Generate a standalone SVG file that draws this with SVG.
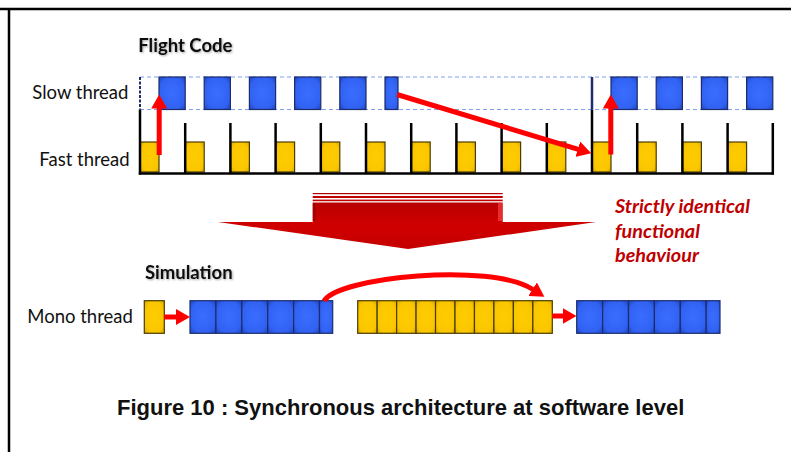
<svg xmlns="http://www.w3.org/2000/svg" width="791" height="452" viewBox="0 0 791 452">
<style>
  .lbl { font-family: Lato, "Open Sans", "Liberation Sans", sans-serif; font-size: 18.5px; fill: #111; }
  .ttl { font-family: Lato, "Open Sans", "Liberation Sans", sans-serif; font-size: 18.5px; font-weight: bold; fill: #111; }
  .red { font-family: Lato, "Open Sans", "Liberation Sans", sans-serif; font-size: 19.8px; font-weight: bold; font-style: italic; fill: #c00000; }
  .cap { font-family: "Liberation Sans", Arial, sans-serif; font-size: 22px; font-weight: bold; fill: #111; }
  .blue { fill: url(#gBlue); stroke: #1c2c6c; stroke-width: 1.2; }
  .yel { fill: url(#gYel); stroke: #4a3c00; stroke-width: 1.2; }
  .tick { stroke: #000; stroke-width: 2.5; }
  .band { stroke: #7f9ff0; stroke-width: 1; stroke-dasharray: 4 3; fill: none; }
  .arr { stroke: #ff0000; stroke-width: 5; fill: none; marker-end: url(#ah); }
</style>
<defs>
  <radialGradient id="gBlue" cx="50%" cy="50%" r="70%">
    <stop offset="0" stop-color="#3a6dff"/>
    <stop offset="0.7" stop-color="#3162f2"/>
    <stop offset="1" stop-color="#1f46c0"/>
  </radialGradient>
  <radialGradient id="gYel" cx="50%" cy="50%" r="70%">
    <stop offset="0" stop-color="#ffcc00"/>
    <stop offset="0.7" stop-color="#fac600"/>
    <stop offset="1" stop-color="#d8a800"/>
  </radialGradient>
  <linearGradient id="gArrow" x1="0" y1="0" x2="0" y2="1">
    <stop offset="0" stop-color="#b80000"/>
    <stop offset="0.5" stop-color="#d00000"/>
    <stop offset="1" stop-color="#c40000"/>
  </linearGradient>
  <marker id="ah" markerUnits="userSpaceOnUse" markerWidth="14" markerHeight="16" viewBox="0 0 14 16" refX="0.5" refY="8" orient="auto">
    <path d="M0,0 L14,8 L0,16 Z" fill="#ff0000"/>
  </marker>
  <filter id="shadow" x="-10%" y="-20%" width="130%" height="160%">
    <feDropShadow dx="1" dy="1" stdDeviation="0.8" flood-color="#000" flood-opacity="0.35"/>
  </filter>
</defs>

<rect x="0" y="0" width="791" height="452" fill="#fff"/>
<!-- frame -->
<g id="frame">
  <line x1="0" y1="9" x2="791" y2="9" stroke="#000" stroke-width="2.5"/>
  <line x1="9" y1="8" x2="9" y2="452" stroke="#000" stroke-width="2.5"/>
</g>

<!-- titles and labels -->
<g id="flight-code-title"><text class="ttl" x="138.3" y="52.3" filter="url(#shadow)">Flight Code</text></g>
<g id="slow-thread-label"><text class="lbl" x="32.3" y="99.3">Slow thread</text></g>
<g id="fast-thread-label"><text class="lbl" x="39.3" y="165.7">Fast thread</text></g>

<!-- slow thread band -->
<g id="slow-band">
  <line class="band" x1="140" y1="77" x2="772.8" y2="77"/>
  <line class="band" x1="140" y1="109.5" x2="772.8" y2="109.5"/>
</g>

<!-- fast thread yellow tasks -->
<g id="fast-tasks">
  <g id="fast-0"><rect class="yel" x="140" y="142" width="19" height="30"/></g>
  <g id="fast-1"><rect class="yel" x="185.2" y="142" width="19" height="30"/></g>
  <g id="fast-2"><rect class="yel" x="230.4" y="142" width="19" height="30"/></g>
  <g id="fast-3"><rect class="yel" x="275.6" y="142" width="19" height="30"/></g>
  <g id="fast-4"><rect class="yel" x="320.8" y="142" width="19" height="30"/></g>
  <g id="fast-5"><rect class="yel" x="366" y="142" width="19" height="30"/></g>
  <g id="fast-6"><rect class="yel" x="411.2" y="142" width="19" height="30"/></g>
  <g id="fast-7"><rect class="yel" x="456.4" y="142" width="19" height="30"/></g>
  <g id="fast-8"><rect class="yel" x="501.6" y="142" width="19" height="30"/></g>
  <g id="fast-9"><rect class="yel" x="546.8" y="142" width="19" height="30"/></g>
  <g id="fast-10"><rect class="yel" x="592" y="142" width="19" height="30"/></g>
  <g id="fast-11"><rect class="yel" x="637.2" y="142" width="19" height="30"/></g>
  <g id="fast-12"><rect class="yel" x="682.4" y="142" width="19" height="30"/></g>
  <g id="fast-13"><rect class="yel" x="727.6" y="142" width="19" height="30"/></g>
</g>

<!-- slow thread blue tasks -->
<g id="slow-tasks">
  <g id="slow-0"><rect class="blue" x="159" y="77" width="26.2" height="32.5"/></g>
  <g id="slow-1"><rect class="blue" x="204.2" y="77" width="26.2" height="32.5"/></g>
  <g id="slow-2"><rect class="blue" x="249.4" y="77" width="26.2" height="32.5"/></g>
  <g id="slow-3"><rect class="blue" x="294.6" y="77" width="26.2" height="32.5"/></g>
  <g id="slow-4"><rect class="blue" x="339.8" y="77" width="26.2" height="32.5"/></g>
  <g id="slow-5"><rect class="blue" x="385" y="77" width="13" height="32.5"/></g>
  <g id="slow-6"><rect class="blue" x="611" y="77" width="26.2" height="32.5"/></g>
  <g id="slow-7"><rect class="blue" x="656.2" y="77" width="26.2" height="32.5"/></g>
  <g id="slow-8"><rect class="blue" x="701.4" y="77" width="26.2" height="32.5"/></g>
  <g id="slow-9"><rect class="blue" x="746.6" y="77" width="26.2" height="32.5"/></g>
</g>

<!-- time axis -->
<g id="time-axis">
  <line x1="140" y1="77" x2="140" y2="109.5" stroke="#1c2c6c" stroke-width="2" stroke-dasharray="3 1.5"/>
  <line class="tick" x1="140" y1="109.5" x2="140" y2="174.5"/>
  <line class="tick" x1="138.8" y1="173.5" x2="774" y2="173.5"/>
  <line class="tick" x1="185.2" y1="123" x2="185.2" y2="173.5"/>
  <line class="tick" x1="230.4" y1="123" x2="230.4" y2="173.5"/>
  <line class="tick" x1="275.6" y1="123" x2="275.6" y2="173.5"/>
  <line class="tick" x1="320.8" y1="123" x2="320.8" y2="173.5"/>
  <line class="tick" x1="366" y1="123" x2="366" y2="173.5"/>
  <line class="tick" x1="411.2" y1="123" x2="411.2" y2="173.5"/>
  <line class="tick" x1="456.4" y1="123" x2="456.4" y2="173.5"/>
  <line class="tick" x1="501.6" y1="123" x2="501.6" y2="173.5"/>
  <line class="tick" x1="546.8" y1="123" x2="546.8" y2="173.5"/>
  <line x1="592" y1="77" x2="592" y2="109.5" stroke="#1c2c6c" stroke-width="2.5"/>
  <line class="tick" x1="592" y1="109.5" x2="592" y2="173.5"/>
  <line class="tick" x1="637.2" y1="123" x2="637.2" y2="173.5"/>
  <line class="tick" x1="682.4" y1="123" x2="682.4" y2="173.5"/>
  <line class="tick" x1="727.6" y1="123" x2="727.6" y2="173.5"/>
  <line class="tick" x1="772.8" y1="123" x2="772.8" y2="174.5"/>
</g>

<!-- big transformation arrow -->
<g id="big-arrow">
  <rect x="312.7" y="193" width="190" height="1.2" fill="#b00000"/>
  <rect x="312.7" y="196" width="190" height="2" fill="#c00000"/>
  <rect x="312.7" y="199.6" width="190" height="1.6" fill="#c00000"/>
  <path d="M312.7,202.5 H502.7 V222 H596 L408,249 L218,222 H312.7 Z" fill="url(#gArrow)"/>
  <rect x="498" y="203" width="4.5" height="18" fill="#ff4a4a" opacity="0.6"/>
  <rect x="312.7" y="203" width="3" height="18" fill="#8a0000" opacity="0.5"/>
</g>

<g id="identical-note">
  <text class="red" x="615" y="213.3">Strictly identical</text>
  <text class="red" x="615" y="238.3">functional</text>
  <text class="red" x="615" y="261.7">behaviour</text>
</g>

<!-- simulation -->
<g id="simulation-title"><text class="ttl" x="145" y="279.3" filter="url(#shadow)">Simulation</text></g>
<g id="mono-thread-label"><text class="lbl" x="27.3" y="323.3">Mono thread</text></g>

<g id="mono-yellow-1"><rect class="yel" x="144.3" y="300.7" width="20" height="32.6"/></g>

<g id="mono-blue-1">
  <rect class="blue" x="190" y="300.7" width="25.9" height="32.6"/>
  <rect class="blue" x="215.9" y="300.7" width="25.9" height="32.6"/>
  <rect class="blue" x="241.8" y="300.7" width="25.9" height="32.6"/>
  <rect class="blue" x="267.7" y="300.7" width="25.9" height="32.6"/>
  <rect class="blue" x="293.6" y="300.7" width="25.9" height="32.6"/>
  <rect class="blue" x="319.5" y="300.7" width="13.2" height="32.6"/>
</g>

<g id="mono-yellow-2">
  <rect class="yel" x="357.7" y="300.7" width="19.46" height="32.6"/>
  <rect class="yel" x="377.16" y="300.7" width="19.46" height="32.6"/>
  <rect class="yel" x="396.62" y="300.7" width="19.46" height="32.6"/>
  <rect class="yel" x="416.08" y="300.7" width="19.46" height="32.6"/>
  <rect class="yel" x="435.54" y="300.7" width="19.46" height="32.6"/>
  <rect class="yel" x="455" y="300.7" width="19.46" height="32.6"/>
  <rect class="yel" x="474.46" y="300.7" width="19.46" height="32.6"/>
  <rect class="yel" x="493.92" y="300.7" width="19.46" height="32.6"/>
  <rect class="yel" x="513.38" y="300.7" width="19.46" height="32.6"/>
  <rect class="yel" x="532.84" y="300.7" width="19.46" height="32.6"/>
</g>

<g id="mono-blue-2">
  <rect class="blue" x="576.7" y="300.7" width="25.9" height="32.6"/>
  <rect class="blue" x="602.6" y="300.7" width="25.9" height="32.6"/>
  <rect class="blue" x="628.5" y="300.7" width="25.9" height="32.6"/>
  <rect class="blue" x="654.4" y="300.7" width="25.9" height="32.6"/>
  <rect class="blue" x="680.3" y="300.7" width="25.9" height="32.6"/>
  <rect class="blue" x="706.2" y="300.7" width="13.8" height="32.6"/>
</g>

<!-- connectors -->
<g id="connectors">
  <path class="arr" d="M159.2,155 V108"/>
  <path class="arr" d="M397,94.5 L578.3,149.3"/>
  <path class="arr" d="M610.8,154.5 V108"/>
  <path class="arr" d="M164.3,317 H176.5"/>
  <path class="arr" d="M552.3,316 H563"/>
  <path class="arr" d="M324,301 C338,277 490,262 533,289.5"/>
</g>

<g id="caption"><text class="cap" x="117" y="415">Figure 10 : Synchronous architecture at software level</text></g>
</svg>
